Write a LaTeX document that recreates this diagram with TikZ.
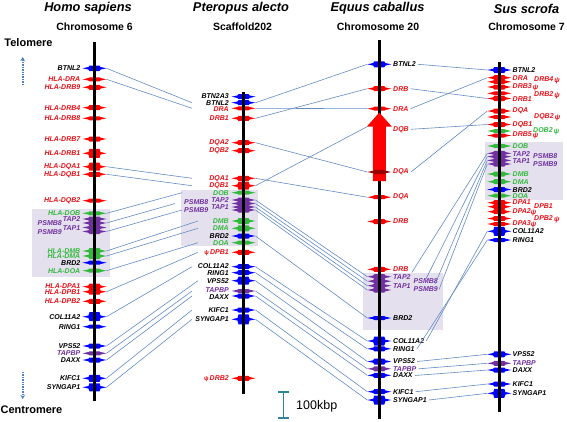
\documentclass[tikz,border=0pt]{standalone}
\usepackage{fontspec}
\setmainfont{Liberation Sans}
\usetikzlibrary{arrows.meta}
\definecolor{gred}{RGB}{255,0,0}
\definecolor{tred}{RGB}{232,16,24}
\definecolor{ggreen}{RGB}{50,185,60}
\definecolor{gpurple}{RGB}{112,48,160}
\definecolor{gblue}{RGB}{0,0,255}
\definecolor{connc}{RGB}{100,140,196}
\definecolor{boxc}{RGB}{229,224,237}
\definecolor{arrc}{RGB}{79,129,189}
\definecolor{scalec}{RGB}{49,133,156}
\newcommand{\gf}{\fontsize{7}{8}\selectfont\bfseries\itshape}
\newcommand{\psisym}{\raisebox{-1pt}{ψ}}
\newcommand{\gm}[5]{%
  \fill[#4] (#2-12,#3) -- (#2-6,#3-1.3) -- (#2-5,#3-#5) -- (#2+5,#3-#5) -- (#2+6,#3-1.3) -- (#2+12,#3)
    -- (#2+6,#3+1.3) -- (#2+5,#3+#5) -- (#2-5,#3+#5) -- (#2-6,#3+1.3) -- cycle;
  \coordinate (#1-L) at (#2-12,#3);
  \coordinate (#1-R) at (#2+12,#3);}
\begin{document}
\begin{tikzpicture}[x=1pt,y=-1pt,
  gl/.style={font=\gf, inner sep=0pt},
  glr/.style={gl, anchor=east},
  gll/.style={gl, anchor=west},
  conn/.style={draw=connc, line width=0.6pt},
  axis/.style={line width=2.4pt, black},
  hbox/.style={fill=boxc},
  spec/.style={font=\fontsize{12.8}{14}\selectfont\bfseries\itshape, inner sep=0pt},
  chrom/.style={font=\fontsize{10.5}{12}\selectfont\bfseries, inner sep=0pt},
  endarrow/.style={draw=arrc, line width=1.6pt, dash pattern=on 1.4pt off 1pt, -{Stealth[length=4pt,width=4.5pt]}}
]
\useasboundingbox (0,0) rectangle (567,421);
\fill[white] (0,0) rectangle (567,421);
\def\hx{94.5}\def\px{243.5}\def\ex{379.3}\def\sx{499.3}
% shaded boxes
\fill[hbox] (32,209) rectangle (110,277);
\fill[hbox] (181,190) rectangle (258,246);
\fill[hbox] (363,273) rectangle (443,330);
\fill[hbox] (485,142) rectangle (563,200);

% headers
\node[spec] (t1) at (88,8.5) {Homo sapiens};
\node[spec] (t2) at (241,8.5) {Pteropus alecto};
\node[spec] (t3) at (377.5,8.5) {Equus caballus};
\node[spec] (t4) at (526.5,8.5) {Sus scrofa};
\node[chrom] (c1) at (94.5,27) {Chromosome 6};
\node[chrom] (c2) at (242.5,27) {Scaffold202};
\node[chrom] (c3) at (378,27) {Chromosome 20};
\node[chrom] (c4) at (526.5,27) {Chromosome 7};
\node[chrom, font=\fontsize{11}{12}\selectfont\bfseries] (telo) at (28.5,42.5) {Telomere};
\node[chrom, font=\fontsize{11}{12}\selectfont\bfseries] (centro) at (31.5,410) {Centromere};
\coordinate (ua1) at (22.7,85); \coordinate (ua2) at (22.7,57);
\coordinate (da1) at (22.7,372); \coordinate (da2) at (22.7,399);
\draw[endarrow] (ua1) -- (ua2);
\draw[endarrow] (da1) -- (da2);

% ---------------- Human markers
\gm{hBTNL2}{\hx}{68.3}{gblue}{2.8}
\gm{hDRA}{\hx}{79.3}{gred}{2}
\gm{hDRB9}{\hx}{87.3}{gred}{2.5}
\gm{hDRB4}{\hx}{107.7}{gred}{2.5}
\gm{hDRB8}{\hx}{118.3}{gred}{2}
\gm{hDRB7}{\hx}{139}{gred}{2.5}
\gm{hDRB1}{\hx}{153.3}{gred}{4.5}
\gm{hDQA1}{\hx}{166.7}{gred}{4}
\gm{hDQB1}{\hx}{174.3}{gred}{2.5}
\gm{hDQB2}{\hx}{200.7}{gred}{2}
\gm{hDOB}{\hx}{213.3}{ggreen}{2}
\gm{hTAP2}{\hx}{219}{gpurple}{2.5}
\gm{hPSMB8}{\hx}{223}{gpurple}{2.5}
\gm{hTAP1}{\hx}{227.5}{gpurple}{2.5}
\gm{hPSMB9}{\hx}{231.5}{gpurple}{2.5}
\gm{hDMB}{\hx}{251}{ggreen}{3}
\gm{hDMA}{\hx}{256}{ggreen}{3}
\gm{hBRD2}{\hx}{262.7}{gblue}{2}
\gm{hDOA}{\hx}{270.7}{ggreen}{2}
\gm{hDPA1}{\hx}{286.7}{gred}{3}
\gm{hDPB1}{\hx}{291.7}{gred}{3}
\gm{hDPB2}{\hx}{301.3}{gred}{2.5}
\gm{hCOL}{\hx}{316.7}{gblue}{4.5}
\gm{hRING1}{\hx}{326.7}{gblue}{2}
\gm{hVPS52}{\hx}{346}{gblue}{2.5}
\gm{hTAPBP}{\hx}{353.3}{gpurple}{2}
\gm{hDAXX}{\hx}{360}{gblue}{2.5}
\gm{hKIFC1}{\hx}{378.3}{gblue}{3.5}
\gm{hSYN}{\hx}{387.3}{gblue}{4}
\draw[axis] (\hx,42) -- (\hx,401);

% Human labels
\node[glr] (hBTNL2-t) at (80.5,68.3) {BTNL2};
\node[glr,text=tred] (hDRA-t) at (80.5,79.3) {HLA-DRA};
\node[glr,text=tred] (hDRB9-t) at (80.5,87.3) {HLA-DRB9};
\node[glr,text=tred] (hDRB4-t) at (80.5,107.7) {HLA-DRB4};
\node[glr,text=tred] (hDRB8-t) at (80.5,118.3) {HLA-DRB8};
\node[glr,text=tred] (hDRB7-t) at (80.5,139) {HLA-DRB7};
\node[glr,text=tred] (hDRB1-t) at (80.5,153.3) {HLA-DRB1};
\node[glr,text=tred] (hDQA1-t) at (80.5,166.4) {HLA-DQA1};
\node[glr,text=tred] (hDQB1-t) at (80.5,174.5) {HLA-DQB1};
\node[glr,text=tred] (hDQB2-t) at (80.5,200.7) {HLA-DQB2};
\node[glr,text=ggreen] (hDOB-t) at (80.5,213.3) {HLA-DOB};
\node[glr,text=gpurple] (hTAP2-t) at (80.5,219.3) {TAP2};
\node[glr,text=gpurple] (hPSMB8-t) at (62,223.3) {PSMB8};
\node[glr,text=gpurple] (hTAP1-t) at (80.5,227.7) {TAP1};
\node[glr,text=gpurple] (hPSMB9-t) at (62,231.7) {PSMB9};
\node[glr,text=ggreen] (hDMB-t) at (80.5,250.6) {HLA-DMB};
\node[glr,text=ggreen] (hDMA-t) at (80.5,256.5) {HLA-DMA};
\node[glr] (hBRD2-t) at (80.5,263) {BRD2};
\node[glr,text=ggreen] (hDOA-t) at (80.5,270.7) {HLA-DOA};
\node[glr,text=tred] (hDPA1-t) at (80.5,286.3) {HLA-DPA1};
\node[glr,text=tred] (hDPB1-t) at (80.5,292.2) {HLA-DPB1};
\node[glr,text=tred] (hDPB2-t) at (80.5,301.3) {HLA-DPB2};
\node[glr] (hCOL-t) at (80.5,316.7) {COL11A2};
\node[glr] (hRING1-t) at (80.5,326.7) {RING1};
\node[glr] (hVPS52-t) at (80.5,346) {VPS52};
\node[glr,text=gpurple] (hTAPBP-t) at (80.5,353.3) {TAPBP};
\node[glr] (hDAXX-t) at (80.5,360) {DAXX};
\node[glr] (hKIFC1-t) at (80.5,378.3) {KIFC1};
\node[glr] (hSYN-t) at (80.5,387.3) {SYNGAP1};

% ---------------- Pteropus markers
\gm{pBTN2A3}{\px}{96.7}{gblue}{2.5}
\gm{pBTNL2}{\px}{102.7}{gblue}{2.5}
\gm{pDRA}{\px}{108.3}{gred}{2}
\gm{pDRB1}{\px}{118.3}{gred}{2.5}
\gm{pDQA2}{\px}{142.7}{gred}{2.5}
\gm{pDQB2}{\px}{150.7}{gred}{2.5}
\gm{pDQA1}{\px}{178.3}{gred}{2.5}
\gm{pDQB1}{\px}{185.7}{gred}{4}
\gm{pDOB}{\px}{192.7}{ggreen}{2}
\gm{pTAP2}{\px}{200}{gpurple}{2.5}
\gm{pPSMB8}{\px}{203.5}{gpurple}{2.5}
\gm{pTAP1}{\px}{207}{gpurple}{2.5}
\gm{pPSMB9}{\px}{210}{gpurple}{2.5}
\gm{pDMB}{\px}{221}{ggreen}{3}
\gm{pDMA}{\px}{228.3}{ggreen}{3}
\gm{pBRD2}{\px}{236}{gblue}{2.5}
\gm{pDOA}{\px}{242.7}{ggreen}{2}
\gm{pDPB1}{\px}{252.3}{gred}{2.5}
\gm{pCOL}{\px}{266.7}{gblue}{2.5}
\gm{pRING1}{\px}{272.7}{gblue}{2.5}
\gm{pVPS52}{\px}{280.7}{gblue}{4}
\gm{pTAPBP}{\px}{291}{gpurple}{2}
\gm{pDAXX}{\px}{296}{gblue}{2.5}
\gm{pKIFC1}{\px}{310}{gblue}{2.5}
\gm{pSYN}{\px}{319.3}{gblue}{5}
\gm{pDRB2}{\px}{378.3}{gred}{2.5}
\draw[axis] (\px,92) -- (\px,394);

% Pteropus labels
\node[glr] (pBTN2A3-t) at (229,96.5) {BTN2A3};
\node[glr] (pBTNL2-t) at (229,102.7) {BTNL2};
\node[glr,text=tred] (pDRA-t) at (229,108.7) {DRA};
\node[glr,text=tred] (pDRB1-t) at (229,118.3) {DRB1};
\node[glr,text=tred] (pDQA2-t) at (229,142.7) {DQA2};
\node[glr,text=tred] (pDQB2-t) at (229,150.7) {DQB2};
\node[glr,text=tred] (pDQA1-t) at (229,178.3) {DQA1};
\node[glr,text=tred] (pDQB1-t) at (229,185.7) {DQB1};
\node[glr,text=ggreen] (pDOB-t) at (229,192.7) {DOB};
\node[glr,text=gpurple] (pTAP2-t) at (229,200) {TAP2};
\node[glr,text=gpurple] (pPSMB8-t) at (208.5,202) {PSMB8};
\node[glr,text=gpurple] (pTAP1-t) at (229,207.3) {TAP1};
\node[glr,text=gpurple] (pPSMB9-t) at (208.5,210.3) {PSMB9};
\node[glr,text=ggreen] (pDMB-t) at (229,221) {DMB};
\node[glr,text=ggreen] (pDMA-t) at (229,228.3) {DMA};
\node[glr] (pBRD2-t) at (229,236) {BRD2};
\node[glr,text=ggreen] (pDOA-t) at (229,242.7) {DOA};
\node[glr,text=tred] (pDPB1-t) at (229,252.3) {{\fontsize{6}{6}\selectfont\upshape ψ}\,DPB1};
\node[glr] (pCOL-t) at (229,266.3) {COL11A2};
\node[glr] (pRING1-t) at (229,273) {RING1};
\node[glr] (pVPS52-t) at (229,280.7) {VPS52};
\node[glr,text=gpurple] (pTAPBP-t) at (229,290.5) {TAPBP};
\node[glr] (pDAXX-t) at (229,296.7) {DAXX};
\node[glr] (pKIFC1-t) at (229,310) {KIFC1};
\node[glr] (pSYN-t) at (229,319.3) {SYNGAP1};
\node[glr,text=tred] (pDRB2-t) at (229,378.3) {{\fontsize{6}{6}\selectfont\upshape ψ}\,DRB2};

% ---------------- Equus markers
\gm{eBTNL2}{\ex}{64.3}{gblue}{3}
\gm{eDRB}{\ex}{88.7}{gred}{2.5}
\gm{eDRA}{\ex}{108.7}{gred}{2}
\gm{eDQA}{\ex}{197.2}{gred}{2}
\gm{eDRBb}{\ex}{221.5}{gred}{2.5}
\gm{eDRBc}{\ex}{269.3}{gred}{2.5}
\gm{eTAP2}{\ex}{276.7}{gpurple}{2.5}
\gm{ePSMB8}{\ex}{281.2}{gpurple}{2.5}
\gm{eTAP1}{\ex}{285.7}{gpurple}{2.5}
\gm{ePSMB9}{\ex}{290}{gpurple}{2.5}
\gm{eBRD2}{\ex}{318}{gblue}{2}
\gm{eCOL}{\ex}{341}{gblue}{4.5}
\gm{eRING1}{\ex}{348.8}{gblue}{2.5}
\gm{eVPS52}{\ex}{361.5}{gblue}{3}
\gm{eTAPBP}{\ex}{368.8}{gpurple}{2.5}
\gm{eDAXX}{\ex}{375.3}{gblue}{2.5}
\gm{eKIFC1}{\ex}{391.7}{gblue}{2.5}
\gm{eSYN}{\ex}{400}{gblue}{4.5}
\draw[axis] (\ex,40) -- (\ex,419);
% big DQB arrow
\fill[gred] (372.8,181) -- (372.8,126.7) -- (366.7,126.7) -- (379.3,112.5) -- (391.9,126.7) -- (385.8,126.7) -- (385.8,181) -- cycle;
\coordinate (eDQB-L) at (367.5,126.5);
\gm{eDQAin}{\ex}{172}{gred!60!black}{2.2}

% Equus labels
\node[gll] (eBTNL2-t) at (393,64.3) {BTNL2};
\node[gll,text=tred] (eDRB-t) at (393,88.7) {DRB};
\node[gll,text=tred] (eDRA-t) at (393,108.7) {DRA};
\node[gll,text=tred] (eDQB-t) at (393,129.3) {DQB};
\node[gll,text=tred] (eDQAin-t) at (393,172) {DQA};
\node[gll,text=tred] (eDQA-t) at (393,197.2) {DQA};
\node[gll,text=tred] (eDRBb-t) at (393,221.5) {DRB};
\node[gll,text=tred] (eDRBc-t) at (393,269.3) {DRB};
\node[gll,text=gpurple] (eTAP2-t) at (393,276.7) {TAP2};
\node[gll,text=gpurple] (eTAP1-t) at (393,285.7) {TAP1};
\node[gll,text=gpurple] (ePSMB8-t) at (413.5,281.5) {PSMB8};
\node[gll,text=gpurple] (ePSMB9-t) at (413.5,289.5) {PSMB9};
\node[gll] (eBRD2-t) at (393,318) {BRD2};
\node[gll] (eCOL-t) at (393,340.8) {COL11A2};
\node[gll] (eRING1-t) at (393,349) {RING1};
\node[gll] (eVPS52-t) at (393,361.5) {VPS52};
\node[gll,text=gpurple] (eTAPBP-t) at (393,368.8) {TAPBP};
\node[gll] (eDAXX-t) at (393,375.5) {DAXX};
\node[gll] (eKIFC1-t) at (393,391.7) {KIFC1};
\node[gll] (eSYN-t) at (393,400) {SYNGAP1};

% ---------------- Sus markers
\gm{sBTNL2}{\sx}{70}{gblue}{3}
\gm{sDRA}{\sx}{77.7}{gred}{2.5}
\gm{sDRB4}{\sx}{81.8}{gred}{2}
\gm{sDRB3}{\sx}{87}{gred}{2.5}
\gm{sDRB2}{\sx}{93.3}{gred}{2}
\gm{sDRB1}{\sx}{98.5}{gred}{2.5}
\gm{sDQA}{\sx}{111}{gred}{2.5}
\gm{sDQB2}{\sx}{117}{gred}{2}
\gm{sDQB1}{\sx}{124.5}{gred}{2.5}
\gm{sDOB2}{\sx}{131}{ggreen}{2}
\gm{sDRB5}{\sx}{135.5}{gred}{2}
\gm{sDOB}{\sx}{146}{ggreen}{2}
\gm{sTAP2}{\sx}{153.3}{gpurple}{2.5}
\gm{sPSMB8}{\sx}{156.6}{gpurple}{2.5}
\gm{sTAP1}{\sx}{160.4}{gpurple}{2.5}
\gm{sPSMB9}{\sx}{164}{gpurple}{2.5}
\gm{sDMB}{\sx}{174}{ggreen}{2.5}
\gm{sDMA}{\sx}{181.7}{ggreen}{2.5}
\gm{sBRD2}{\sx}{189.5}{gblue}{2.5}
\gm{sDOA}{\sx}{195.7}{ggreen}{2}
\gm{sDPA1}{\sx}{202.7}{gred}{2.5}
\gm{sDPB1}{\sx}{206.7}{gred}{2.5}
\gm{sDPA2}{\sx}{211.7}{gred}{2.5}
\gm{sDPB2}{\sx}{218.5}{gred}{2.5}
\gm{sDPA3}{\sx}{224}{gred}{2}
\gm{sCOL}{\sx}{231.3}{gblue}{4.5}
\gm{sRING1}{\sx}{240}{gblue}{2}
\gm{sVPS52}{\sx}{354.3}{gblue}{3}
\gm{sTAPBP}{\sx}{363.3}{gpurple}{2.5}
\gm{sDAXX}{\sx}{370}{gblue}{2.5}
\gm{sKIFC1}{\sx}{384}{gblue}{2.5}
\gm{sSYN}{\sx}{393.3}{gblue}{4.5}
\draw[axis] (\sx,62) -- (\sx,412);

% Sus labels
\node[gll] (sBTNL2-t) at (512.5,70) {BTNL2};
\node[gll,text=tred] (sDRA-t) at (512.5,77.7) {DRA};
\node[gll,text=tred] (sDRB4-t) at (534,80.5) {DRB4\,\psisym};
\node[gll,text=tred] (sDRB3-t) at (512.5,87.2) {DRB3\,\psisym};
\node[gll,text=tred] (sDRB2-t) at (534,95) {DRB2\,\psisym};
\node[gll,text=tred] (sDRB1-t) at (512.5,99) {DRB1};
\node[gll,text=tred] (sDQA-t) at (512.5,111) {DQA};
\node[gll,text=tred] (sDQB2-t) at (534,117.3) {DQB2\,\psisym};
\node[gll,text=tred] (sDQB1-t) at (512.5,125) {DQB1};
\node[gll,text=ggreen] (sDOB2-t) at (533,131) {DOB2\,\psisym};
\node[gll,text=tred] (sDRB5-t) at (512.5,135.3) {DRB5\,\psisym};
\node[gll,text=ggreen] (sDOB-t) at (512.5,146) {DOB};
\node[gll,text=gpurple] (sTAP2-t) at (512.5,153.6) {TAP2};
\node[gll,text=gpurple] (sPSMB8-t) at (533,155.8) {PSMB8};
\node[gll,text=gpurple] (sTAP1-t) at (512.5,161.3) {TAP1};
\node[gll,text=gpurple] (sPSMB9-t) at (533,164) {PSMB9};
\node[gll,text=ggreen] (sDMB-t) at (512.5,174) {DMB};
\node[gll,text=ggreen] (sDMA-t) at (512.5,182) {DMA};
\node[gll] (sBRD2-t) at (512.5,189.7) {BRD2};
\node[gll,text=ggreen] (sDOA-t) at (512.5,195.7) {DOA};
\node[gll,text=tred] (sDPA1-t) at (512.5,202.5) {DPA1};
\node[gll,text=tred] (sDPB1-t) at (534,205.8) {DPB1};
\node[gll,text=tred] (sDPA2-t) at (512.5,212.2) {DPA2\psisym};
\node[gll,text=tred] (sDPB2-t) at (534,219) {DPB2\,\psisym};
\node[gll,text=tred] (sDPA3-t) at (512.5,224.3) {DPA3\psisym};
\node[gll] (sCOL-t) at (512.5,231.3) {COL11A2};
\node[gll] (sRING1-t) at (512.5,240) {RING1};
\node[gll] (sVPS52-t) at (512.5,354.3) {VPS52};
\node[gll,text=gpurple] (sTAPBP-t) at (512.5,363.3) {TAPBP};
\node[gll] (sDAXX-t) at (512.5,370) {DAXX};
\node[gll] (sKIFC1-t) at (512.5,384) {KIFC1};
\node[gll] (sSYN-t) at (512.5,393.3) {SYNGAP1};

% ---------------- connectors Human -> Pteropus
\coordinate (pin) at (192,0);
\coordinate (pinA) at (182,0);
\coordinate (pinB) at (175,0);
\coordinate (pinC) at (198,0);
\draw[conn] (hBTNL2-R) -- (pBTNL2-L -| pin);
\draw[conn] (hDRA-R) -- (pDRA-L -| pin);
\draw[conn] (hDQA1-R) -- (pDQA1-L -| pin);
\draw[conn] (hDQB1-R) -- (pDQB1-L -| pin);
\draw[conn] (hDOB-R) -- (pDOB-L -| pinA);
\draw[conn] (hPSMB8-R) -- (pPSMB8-L -| pinB);
\draw[conn] (hPSMB9-R) -- (pPSMB9-L -| pinA);
\draw[conn] (hDMB-R) -- (pDMB-L -| pinC);
\draw[conn] (hDMA-R) -- (pDMA-L -| pinC);
\draw[conn] (hDOA-R) -- (pDOA-L -| pinC);
\draw[conn] (hDPB1-R) -- (pDPB1-L -| pinC);
\draw[conn] (hCOL-R) -- (pCOL-L -| pin);
\draw[conn] (hVPS52-R) -- (pVPS52-L -| pinC);
\draw[conn] (hTAPBP-R) -- (pTAPBP-L -| pin);
\draw[conn] (hDAXX-R) -- (pDAXX-L -| pin);
\draw[conn] (hKIFC1-R) -- (pKIFC1-L -| pin);
\draw[conn] (hSYN-R) -- (pSYN-L -| pin);

% ---------------- connectors Pteropus -> Equus
\draw[conn] (pBTNL2-R) -- (eBTNL2-L);
\draw[conn] (pDRA-R) -- (eDRA-L);
\draw[conn] (pDRB1-R) -- (eDRB-L);
\draw[conn] (pDQA2-R) -- (eDQAin-L);
\draw[conn] (pDQA1-R) -- (eDQA-L);
\draw[conn] (pDQB1-R) -- (eDQB-L);
\draw[conn] (pTAP2-R) -- (eTAP2-L);
\draw[conn] (pPSMB8-R) -- (ePSMB8-L);
\draw[conn] (pTAP1-R) -- (eTAP1-L);
\draw[conn] (pPSMB9-R) -- (ePSMB9-L);
\draw[conn] (pBRD2-R) -- (eBRD2-L);
\draw[conn] (pCOL-R) -- (eCOL-L);
\draw[conn] (pRING1-R) -- (eRING1-L);
\draw[conn] (pVPS52-R) -- (eVPS52-L);
\draw[conn] (pTAPBP-R) -- (eTAPBP-L);
\draw[conn] (pDAXX-R) -- (eDAXX-L);
\draw[conn] (pKIFC1-R) -- (eKIFC1-L);
\draw[conn] (pSYN-R) -- (eSYN-L);

% ---------------- connectors Equus -> Sus
\draw[conn] ([xshift=2pt]eBTNL2-t.east) -- (sBTNL2-L);
\draw[conn] ([xshift=2pt]eDRB-t.east) -- (sDRB1-L);
\draw[conn] ([xshift=2pt]eDRA-t.east) -- (sDRA-L);
\draw[conn] ([xshift=2pt]eDQB-t.east) -- (sDQB1-L);
\draw[conn] ([xshift=2pt]eDQAin-t.east) -- (sDQA-L);
\draw[conn] ([xshift=1pt,yshift=1.5pt]eTAP2-t.north east) -- (sTAP2-L);
\draw[conn] ([xshift=-12pt]ePSMB8-t.north east) -- (sPSMB8-L);
\draw[conn] ([xshift=-3pt]ePSMB8-t.south east) -- (sTAP1-L);
\draw[conn] ([xshift=1pt]ePSMB9-t.east) -- (sPSMB9-L);
\draw[conn] ([xshift=2pt]eCOL-t.east) -- (sCOL-L);
\draw[conn] ([xshift=2pt]eRING1-t.east) -- (sRING1-L);
\draw[conn] ([xshift=2pt]eVPS52-t.east) -- (sVPS52-L);
\draw[conn] ([xshift=2pt]eTAPBP-t.east) -- (sTAPBP-L);
\draw[conn] ([xshift=2pt]eDAXX-t.east) -- (sDAXX-L);
\draw[conn] ([xshift=2pt]eKIFC1-t.east) -- (sKIFC1-L);
\draw[conn] ([xshift=2pt]eSYN-t.east) -- (sSYN-L);

% ---------------- scale bar
\coordinate (sb1) at (283.5,392); \coordinate (sb2) at (283.5,418);
\draw[scalec, line width=1.8pt] (sb1) -- (sb2);
\draw[scalec, line width=1.8pt] ([xshift=-5.5pt]sb1) -- ([xshift=5.5pt]sb1);
\draw[scalec, line width=1.8pt] ([xshift=-5.5pt]sb2) -- ([xshift=5.5pt]sb2);
\node[anchor=west, inner sep=0pt, font=\fontsize{12.5}{14}\selectfont] (sbt) at (296,406.5) {100kbp};
\end{tikzpicture}
\end{document}
